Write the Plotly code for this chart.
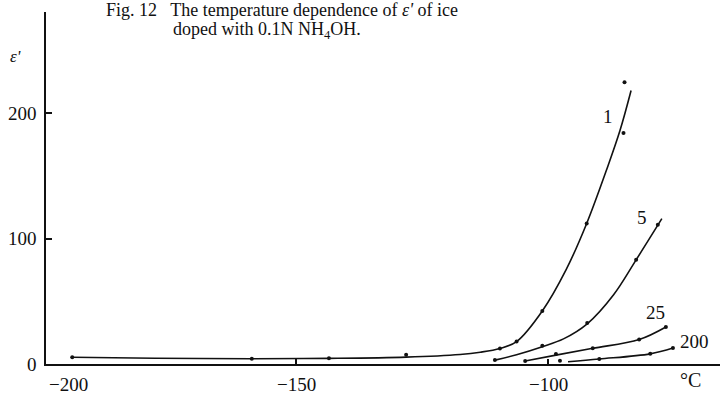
import plotly.graph_objects as go

curve1_T = [-194.4, -178.0, -158.8, -143.5, -128.2, -117.5, -113.5, -109.6, -106.3,
            -101.2, -96.5, -92.4, -88.4, -85.8, -83.6]
curve1_eps = [5.4, 4.6, 4.2, 4.5, 5.5, 7.6, 9.4, 12.4, 17.9,
              42.3, 75.0, 112.0, 155.4, 186.0, 217.9]

curve5_T = [-110.6, -106.3, -101.2, -97.0, -92.3, -87.1, -82.6, -77.5]
curve5_eps = [3.1, 7.4, 13.8, 20.0, 32.0, 55.0, 83.0, 115.8]

curve25_T = [-104.6, -98.5, -91.2, -82.0, -76.7]
curve25_eps = [2.4, 7.1, 12.5, 19.5, 29.5]

curve200_T = [-96.1, -89.9, -79.8, -75.3]
curve200_eps = [1.8, 4.0, 8.1, 12.7]

# Measured points
pts1_T = [-194.4, -158.8, -143.5, -128.2, -109.6, -106.3, -101.2, -92.4, -85.1, -84.9]
pts1_eps = [5.4, 4.2, 4.5, 7.3, 12.4, 17.9, 42.3, 112.0, 184.0, 224.5]

pts5_T = [-110.6, -101.2, -92.3, -82.6, -78.3]
pts5_eps = [3.1, 14.5, 32.7, 83.0, 111.0]

pts25_T = [-104.6, -98.5, -91.2, -82.0, -76.7]
pts25_eps = [2.4, 7.9, 12.5, 19.5, 29.5]

pts200_T = [-97.7, -89.9, -79.8, -75.3]
pts200_eps = [2.5, 4.0, 8.1, 12.7]

# Frequency labels (kHz) placed beside each curve
freq_labels = ["1", "5", "25", "200"]
label_T = [-88.2, -81.4, -78.7, -71.0]
label_eps = [197.6, 117.0, 41.4, 18.3]

x_ticks = [-200, -150, -100]
x_tick_text = ["\u2212200", "\u2212150", "\u2212100"]
y_ticks = [0, 100, 200]
x_min, x_max = -199.6, -65.97

FONT = "Liberation Serif"
INK = "#111111"

W, H = 720, 397
ML, MR, MT, MB = 46, 0, 12, 33
pw, ph = W - ML - MR, H - MT - MB


def to_paper(px, py):
    return (px - ML) / pw, (H - MB - py) / ph


fig = go.Figure()

for T, e in [(curve1_T, curve1_eps), (curve5_T, curve5_eps),
             (curve25_T, curve25_eps), (curve200_T, curve200_eps)]:
    fig.add_trace(go.Scatter(x=T, y=e, mode="lines",
                             line=dict(color=INK, width=1.6, shape="spline", smoothing=1.0),
                             hoverinfo="skip", showlegend=False, cliponaxis=False))

for T, e in [(pts1_T, pts1_eps), (pts5_T, pts5_eps),
             (pts25_T, pts25_eps), (pts200_T, pts200_eps)]:
    fig.add_trace(go.Scatter(x=T, y=e, mode="markers",
                             marker=dict(color=INK, size=4, symbol="circle"),
                             showlegend=False, cliponaxis=False))

for txt, T, e in zip(freq_labels, label_T, label_eps):
    fig.add_annotation(x=T, y=e, text=txt, showarrow=False,
                       xanchor="center", yanchor="middle",
                       font=dict(family=FONT, size=19, color=INK))

# x tick labels sit below the axis; the first one is nudged clear of the y axis
for i, (v, t) in enumerate(zip(x_ticks, x_tick_text)):
    fig.add_annotation(x=max(v, x_min), y=to_paper(0, 384)[1], xref="x", yref="paper",
                       text=t, showarrow=False, xanchor="center", yanchor="middle",
                       xshift=22 if i == 0 else 0,
                       font=dict(family=FONT, size=19, color=INK))


def page_text(text, px, py, size, **kw):
    x, y = to_paper(px, py)
    fig.add_annotation(text=text, x=x, y=y, xref="paper", yref="paper",
                       showarrow=False, xanchor="center", yanchor="middle",
                       font=dict(family=FONT, size=size, color=INK), **kw)


page_text("\u00b0C", 690, 380, 20)
page_text("Fig. 12\u2002 The temperature dependence of <i>\u03b5'</i> of ice", 282, 10, 18)
page_text("doped with 0.1N NH<sub>4</sub>OH.", 267, 31, 18)
page_text("<i>\u03b5'</i>", 16, 56, 17)

fig.update_layout(
    width=W, height=H,
    margin=dict(l=ML, r=MR, t=MT, b=MB),
    paper_bgcolor="white", plot_bgcolor="white",
    font=dict(family=FONT, size=19, color=INK),
    xaxis=dict(range=[x_min, x_max], showgrid=False, zeroline=False,
               showline=True, linecolor=INK, linewidth=2,
               tickvals=x_ticks, showticklabels=False, ticks="inside",
               ticklen=5, tickwidth=1.5, tickcolor=INK, fixedrange=True),
    yaxis=dict(range=[0, 280.5], showgrid=False, zeroline=False,
               showline=True, linecolor=INK, linewidth=1.6,
               tickvals=y_ticks, ticks="inside", ticklen=6, tickwidth=1.5,
               tickcolor=INK, ticklabelstandoff=4,
               tickfont=dict(family=FONT, size=19, color=INK), fixedrange=True),
)

fig.write_html("out.html")
